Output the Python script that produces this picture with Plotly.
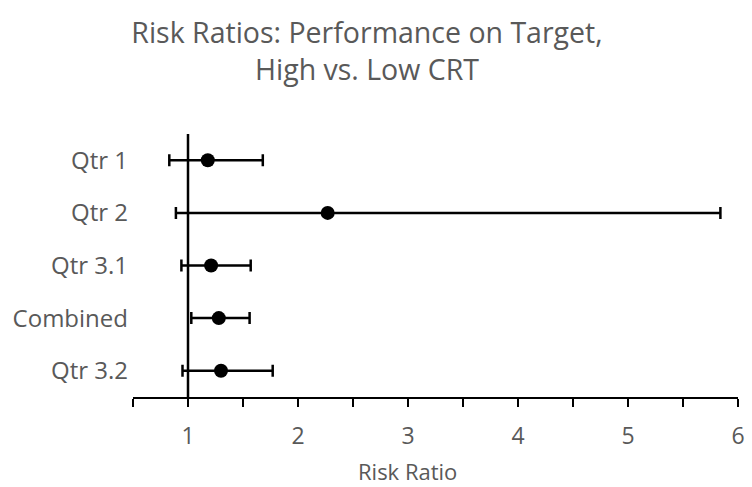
import plotly.graph_objects as go

categories = ["Qtr 1", "Qtr 2", "Qtr 3.1", "Combined", "Qtr 3.2"]
risk_ratio = [1.18, 2.27, 1.21, 1.28, 1.30]
ci_lower = [0.83, 0.89, 0.94, 1.03, 0.95]
ci_upper = [1.68, 5.84, 1.57, 1.56, 1.77]
x_tick_values = [0.5, 1, 1.5, 2, 2.5, 3, 3.5, 4, 4.5, 5, 5.5, 6]
x_tick_labels = ["", "1", "", "2", "", "3", "", "4", "", "5", "", "6"]

err_plus = [u - r for u, r in zip(ci_upper, risk_ratio)]
err_minus = [r - l for r, l in zip(risk_ratio, ci_lower)]

FONT = "Open Sans"
GRAY = "#595959"

fig = go.Figure()
fig.add_trace(go.Scatter(
    x=risk_ratio, y=categories, mode="markers",
    marker=dict(color="black", size=14),
    error_x=dict(type="data", symmetric=False, array=err_plus, arrayminus=err_minus,
                 color="black", thickness=2.5, width=6),
    showlegend=False, cliponaxis=False,
))
fig.add_shape(type="line", xref="x", yref="paper", x0=1, x1=1, y0=0, y1=1,
              line=dict(color="black", width=2.5), layer="below")

fig.add_annotation(text="Risk Ratio", xref="paper", yref="paper",
                   x=0.454, y=-0.281, xanchor="center", yanchor="middle", showarrow=False,
                   font=dict(family=FONT, size=22, color=GRAY))

fig.update_layout(
    width=752, height=487,
    margin=dict(l=133, r=7, t=134, b=90),
    paper_bgcolor="white", plot_bgcolor="white",
    title=dict(text="Risk Ratios: Performance on Target,<br>High vs. Low CRT",
               x=0.488, xanchor="center", y=0.912, yanchor="middle",
               font=dict(family=FONT, size=28.5, color=GRAY)),
    xaxis=dict(range=[0.5, 6], tickvals=x_tick_values, ticktext=x_tick_labels,
               showgrid=False, zeroline=False, showline=True, linecolor="black", linewidth=2,
               ticks="outside", ticklen=8, tickwidth=1.5, tickcolor="black",
               ticklabelstandoff=9,
               tickfont=dict(family=FONT, size=23, color=GRAY)),
    yaxis=dict(categoryorder="array", categoryarray=categories[::-1],
               range=[-0.5, 4.5], showgrid=False, zeroline=False, showline=False,
               ticks="", ticklabelstandoff=4,
               tickfont=dict(family=FONT, size=24, color=GRAY)),
)

fig.write_html("out.html")
